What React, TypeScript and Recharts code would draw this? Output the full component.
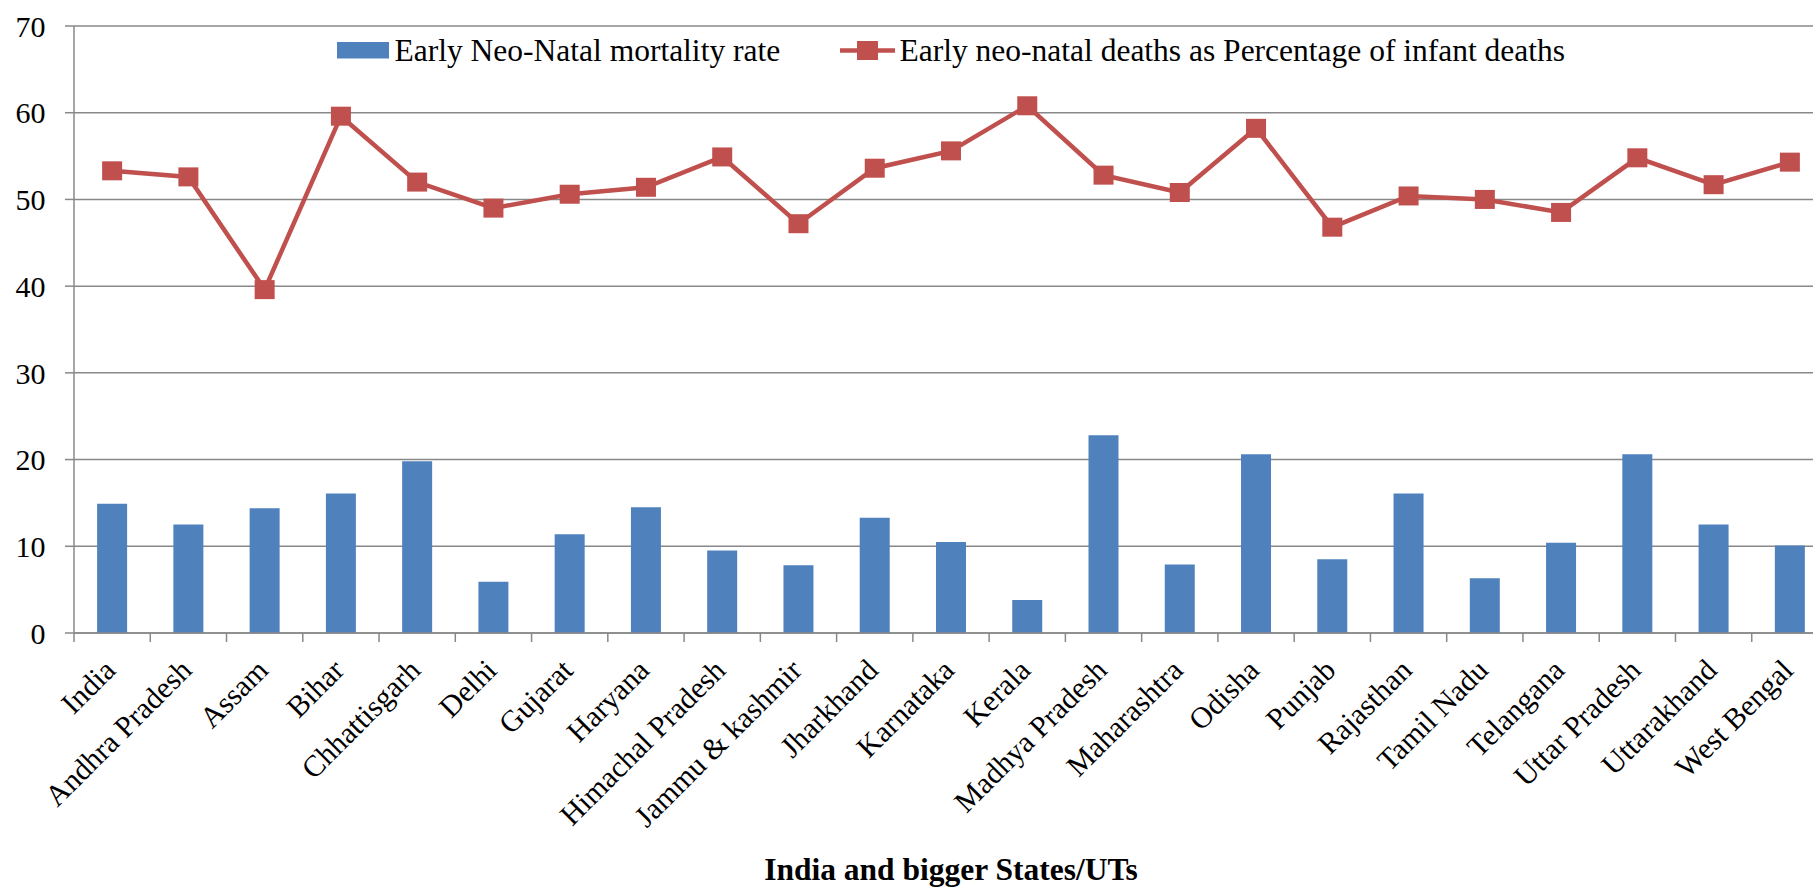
import { ComposedChart, Bar, Line, XAxis, YAxis, CartesianGrid, Legend } from 'recharts';

const states = [
  'India', 'Andhra Pradesh', 'Assam', 'Bihar', 'Chhattisgarh', 'Delhi', 'Gujarat', 'Haryana',
  'Himachal Pradesh', 'Jammu & kashmir', 'Jharkhand', 'Karnataka', 'Kerala', 'Madhya Pradesh',
  'Maharashtra', 'Odisha', 'Punjab', 'Rajasthan', 'Tamil Nadu', 'Telangana', 'Uttar Pradesh',
  'Uttarakhand', 'West Bengal',
];

// Early neo-natal mortality rate (bars)
const enmr = [
  14.9, 12.5, 14.4, 16.1, 19.8, 5.9, 11.4, 14.5, 9.5, 7.8, 13.3, 10.5, 3.8, 22.8,
  7.9, 20.6, 8.5, 16.1, 6.3, 10.4, 20.6, 12.5, 10.1,
];

// Early neo-natal deaths as % of infant deaths (line)
const enndPct = [
  53.3, 52.6, 39.6, 59.6, 52.0, 49.0, 50.6, 51.4, 54.9, 47.2, 53.6, 55.6, 60.8, 52.8,
  50.8, 58.2, 46.8, 50.4, 50.0, 48.5, 54.8, 51.7, 54.3,
];

const yTicks = [0, 10, 20, 30, 40, 50, 60, 70];

const barName = 'Early Neo-Natal mortality rate';
const lineName = 'Early neo-natal deaths as Percentage of infant deaths';

const data = states.map((s, i) => ({ state: s, enmr: enmr[i], pct: enndPct[i] }));

const FONT = '"Liberation Serif", "Times New Roman", serif';
const BLUE = '#4F81BD';
const RED = '#C0504D';
const GRID = '#888888';

// layout (chart is a bit wider than the picture, the right edge is cut off like the source)
const CHART_W = 1840;
const CHART_H = 890;
const MARGIN = { top: 26, right: 12, left: 0, bottom: 0 };
const YAXIS_W = 74;
const XAXIS_H = 257;
const PLOT_W = CHART_W - MARGIN.left - MARGIN.right - YAXIS_W;
const BAND = PLOT_W / states.length;
const AXIS_Y = CHART_H - MARGIN.bottom - XAXIS_H;

const StateTick = ({ x, index, payload }: any) => {
  const left = x - BAND / 2;
  const tx = x + 5;
  const ty = AXIS_Y + 39;
  return (
    <g>
      <line x1={left} x2={left} y1={AXIS_Y} y2={AXIS_Y + 9} stroke={GRID} strokeWidth={1.5} />
      {index === states.length - 1 && (
        <line x1={x + BAND / 2} x2={x + BAND / 2} y1={AXIS_Y} y2={AXIS_Y + 9} stroke={GRID} strokeWidth={1.5} />
      )}
      <text
        x={tx}
        y={ty}
        textAnchor="end"
        transform={`rotate(-45, ${tx}, ${ty})`}
        fontSize={30}
        fontFamily={FONT}
        fill="#000"
      >
        {payload.value}
      </text>
    </g>
  );
};

const SquareDot = ({ cx, cy, index }: any) => (
  <rect key={`dot-${index}`} x={cx - 10} y={cy - 9.5} width={20} height={19} fill={RED} />
);

const LegendContent = ({ payload }: any) => {
  const items = payload || [];
  const bar = items.find((p: any) => p.dataKey === 'enmr');
  const line = items.find((p: any) => p.dataKey === 'pct');
  return (
    <svg width={1813} height={80} style={{ display: 'block' }}>
      <rect x={337} y={42} width={52} height={16.5} fill={BLUE} />
      <text x={394.5} y={61} fontSize={31.5} fontFamily={FONT} fill="#000">
        {bar ? bar.value : barName}
      </text>
      <line x1={840} x2={895} y1={50.5} y2={50.5} stroke={RED} strokeWidth={4.5} />
      <rect x={857} y={41} width={21} height={19} fill={RED} />
      <text x={899.5} y={61} fontSize={31.5} fontFamily={FONT} fill="#000">
        {line ? line.value : lineName}
      </text>
    </svg>
  );
};

const AxisTitle = ({ viewBox }: any) => (
  <text
    x={viewBox.x + viewBox.width / 2}
    y={viewBox.y + viewBox.height - 10}
    textAnchor="middle"
    fontSize={31.5}
    fontWeight="bold"
    fontFamily={FONT}
    fill="#000"
  >
    India and bigger States/UTs
  </text>
);

export default function App() {
  return (
    <div
      style={{
        position: 'absolute',
        left: 0,
        top: 0,
        width: 1813,
        height: 890,
        overflow: 'hidden',
        background: '#fff',
        fontFamily: FONT,
      }}
    >
      <ComposedChart width={CHART_W} height={CHART_H} data={data} margin={MARGIN} barCategoryGap="30.3%">
        <CartesianGrid vertical={false} stroke={GRID} strokeWidth={1.5} />
        <XAxis
          dataKey="state"
          height={XAXIS_H}
          interval={0}
          tickLine={false}
          axisLine={{ stroke: GRID, strokeWidth: 1.5 }}
          tick={<StateTick />}
          label={<AxisTitle />}
        />
        <YAxis
          width={YAXIS_W}
          domain={[0, 70]}
          ticks={yTicks}
          interval={0}
          tickSize={9}
          tickMargin={19.5}
          axisLine={{ stroke: GRID, strokeWidth: 1.5 }}
          tickLine={{ stroke: GRID, strokeWidth: 1.5 }}
          tick={{ fill: '#000', fontSize: 30, fontFamily: FONT }}
        />
        <Legend
          layout="horizontal"
          verticalAlign="middle"
          align="center"
          content={<LegendContent />}
          wrapperStyle={{ position: 'absolute', top: 0, left: 0, width: 1813, height: 80 }}
        />
        <Bar dataKey="enmr" name={barName} fill={BLUE} isAnimationActive={false} />
        <Line
          dataKey="pct"
          name={lineName}
          stroke={RED}
          strokeWidth={4.5}
          dot={<SquareDot />}
          activeDot={false}
          isAnimationActive={false}
        />
      </ComposedChart>
    </div>
  );
}
